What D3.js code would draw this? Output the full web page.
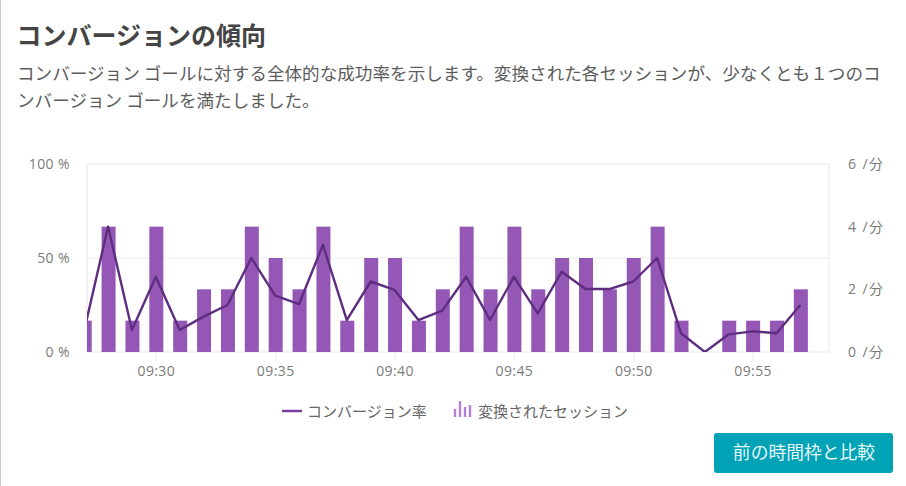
<!DOCTYPE html>
<html lang="ja">
  <head>
    <meta charset="UTF-8" />
    <title>コンバージョンの傾向</title>
    <script src="https://d3js.org/d3.v7.min.js"></script>
    <style>
      html, body { margin: 0; padding: 0; background: #fff; overflow: hidden; }
      text { font-family: "Noto Sans CJK JP", "Noto Sans", sans-serif; }
      .title { font-size: 25px; font-weight: 700; fill: #444; }
      .desc { font-size: 17.6px; fill: #5c5c5c; }
      .tick-label { font-family: "Open Sans", "Noto Sans CJK JP", sans-serif; font-size: 14px; letter-spacing: 0.4px; fill: #7a7a7a; }
      .tick-right { letter-spacing: 1.4px; }
      .legend { font-size: 15px; fill: #666; }
      .button-label { font-size: 17.8px; fill: #e6f6f8; }
    </style>
  </head>
  <body>
    <div id="chart"></div>
    <script>
      // 分ごとのデータ (09:27 - 09:57)
      const minutes = d3.range(27, 58);
      const sessions = [1, 4, 1, 4, 1, 2, 2, 4, 3, 2, 4, 1, 3, 3, 1, 2, 4, 2, 4, 2, 3, 3, 2, 3, 4, 1, 0, 1, 1, 1, 2];
      const rate = [11.5, 66.7, 11.7, 40, 11.7, 18.8, 25, 50, 30, 25.5, 57, 17, 37.5, 33, 17, 22, 40, 17, 40, 20.5, 42.7, 33.5, 33.5, 37.5, 50, 10, 0, 9.4, 11, 10, 25];
      const timeTicks = [30, 35, 40, 45, 50, 55];
      const rateTicks = [0, 50, 100];
      const sessionTicks = [0, 2, 4, 6];

      const titleText = "コンバージョンの傾向";
      const descLines = [
        "コンバージョン ゴールに対する全体的な成功率を示します。変換された各セッションが、少なくとも１つのコ",
        "ンバージョン ゴールを満たしました。",
      ];
      const legendLine = "コンバージョン率";
      const legendBars = "変換されたセッション";
      const buttonText = "前の時間枠と比較";

      const width = 906, height = 486;
      const plot = { left: 87, right: 829, top: 164, bottom: 352 };

      // 分 (小数可) を日時に変換
      const toDate = (m) => new Date(2020, 0, 1, 9, 0, m * 60);

      const svg = d3.select("#chart").append("svg")
        .attr("width", width).attr("height", height)
        .style("display", "block");

      // ページ左端の枠線
      svg.append("rect").attr("x", 0).attr("y", 0).attr("width", 1).attr("height", height).attr("fill", "#ccc");

      svg.append("text").attr("class", "title").attr("x", 16.5).attr("y", 45).text(titleText);
      svg.selectAll(".desc").data(descLines).enter().append("text")
        .attr("class", "desc").attr("x", 17)
        .attr("y", (d, i) => 80 + i * 26.5)
        .text((d) => d);

      // スケール
      const x = d3.scaleTime()
        .domain([toDate(27.13), toDate(58.2)])
        .range([plot.left, plot.right]);
      const yRate = d3.scaleLinear().domain([0, 100]).range([plot.bottom, plot.top]);
      const ySessions = d3.scaleLinear().domain([0, 6]).range([plot.bottom, plot.top]);
      const barWidth = 14;

      svg.append("defs").append("clipPath").attr("id", "plot-clip").append("rect")
        .attr("x", plot.left).attr("y", plot.top)
        .attr("width", plot.right - plot.left)
        .attr("height", plot.bottom - plot.top);

      // グリッド
      svg.append("rect")
        .attr("x", plot.left).attr("y", plot.top)
        .attr("width", plot.right - plot.left)
        .attr("height", plot.bottom - plot.top)
        .attr("fill", "none").attr("stroke", "#f0f0f0").attr("stroke-width", 1.5);
      svg.append("line")
        .attr("x1", plot.left).attr("x2", plot.right)
        .attr("y1", yRate(50)).attr("y2", yRate(50))
        .attr("stroke", "#f3f3f3").attr("stroke-width", 1.5);

      // 棒
      const chart = svg.append("g").attr("clip-path", "url(#plot-clip)");
      chart.selectAll(".bar").data(minutes).enter().append("rect")
        .attr("class", "bar")
        .attr("x", (m) => x(toDate(m)) - barWidth / 2 + 0.5)
        .attr("y", (m, i) => ySessions(sessions[i]))
        .attr("width", barWidth)
        .attr("height", (m, i) => plot.bottom - ySessions(sessions[i]))
        .attr("fill", "#9457b5");

      // 折れ線
      const line = d3.line()
        .x((m) => x(toDate(m)))
        .y((m, i) => yRate(rate[i]));
      chart.append("path").datum(minutes)
        .attr("d", line)
        .attr("fill", "none")
        .attr("stroke", "#5f2d80")
        .attr("stroke-width", 2.4)
        .attr("stroke-linejoin", "round");

      // 軸
      const xAxis = svg.append("g")
        .attr("transform", `translate(0,${plot.bottom})`)
        .call(d3.axisBottom(x)
          .tickValues(timeTicks.map(toDate))
          .tickFormat(d3.timeFormat("%H:%M"))
          .tickSize(10).tickPadding(4));
      xAxis.select(".domain").remove();
      xAxis.selectAll("line").attr("stroke", "#f0f0f0").attr("stroke-width", 1.5);
      xAxis.selectAll("text").attr("class", "tick-label").attr("fill", null);

      const leftAxis = svg.append("g")
        .attr("transform", `translate(${plot.left},0)`)
        .call(d3.axisLeft(yRate).tickValues(rateTicks).tickFormat((d) => d + " %").tickSize(0).tickPadding(17));
      leftAxis.select(".domain").remove();
      leftAxis.selectAll("text").attr("class", "tick-label").attr("fill", null);

      const rightAxis = svg.append("g")
        .attr("transform", `translate(${plot.right},0)`)
        .call(d3.axisRight(ySessions).tickValues(sessionTicks).tickFormat((d) => d + " /分").tickSize(0).tickPadding(19));
      rightAxis.select(".domain").remove();
      rightAxis.selectAll("text").attr("class", "tick-label tick-right").attr("fill", null);

      // 凡例
      const legendY = 411;
      svg.append("line")
        .attr("x1", 282).attr("x2", 302).attr("y1", legendY).attr("y2", legendY)
        .attr("stroke", "#7b3f9e").attr("stroke-width", 2.5);
      svg.append("text").attr("class", "legend").attr("x", 307).attr("y", legendY + 6).text(legendLine);
      svg.append("path")
        .attr("d", "M455 417V409M460 417V401M465 417V407M470 417V405")
        .attr("stroke", "#b27fd3").attr("stroke-width", 2.4);
      svg.append("text").attr("class", "legend").attr("x", 478).attr("y", legendY + 6).text(legendBars);

      // ボタン
      svg.append("rect")
        .attr("x", 714).attr("y", 433).attr("width", 179).attr("height", 40).attr("rx", 3)
        .attr("fill", "#00a2b5");
      svg.append("text").attr("class", "button-label")
        .attr("x", 804).attr("y", 459).attr("text-anchor", "middle").text(buttonText);
    </script>
  </body>
</html>
